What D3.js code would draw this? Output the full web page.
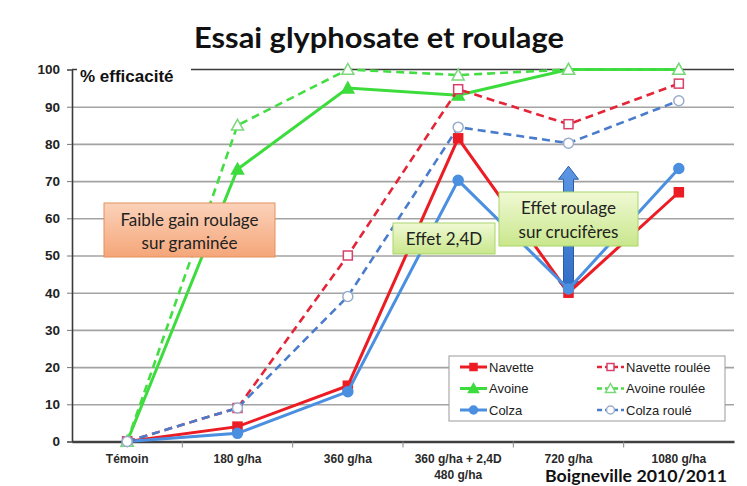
<!DOCTYPE html>
<html>
<head>
<meta charset="utf-8">
<script src="https://cdn.jsdelivr.net/npm/d3@7"></script>
<style>
  body { margin: 0; background: #fff; }
  svg { display: block; }
  .sans { font-family: "Liberation Sans", Arial, sans-serif; }
  .cal { font-family: Lato, "Open Sans", sans-serif; }
</style>
</head>
<body>
<div id="chart"></div>
<script>
// categories and values
var categories = ["Témoin", "180 g/ha", "360 g/ha", "360 g/ha + 2,4D|480 g/ha", "720 g/ha", "1080 g/ha"];
var yTicks = [0, 10, 20, 30, 40, 50, 60, 70, 80, 90, 100];

var navette        = [0, 4, 15, 81.5, 40, 67];
var navetteRoulee  = [0, 9, 50, 94.7, 85.3, 96.2];
var avoine         = [0, 73.2, 95, 93.1, 100, 100];
var avoineRoulee   = [0, 85, 100, 98.5, 100, 100];
var colza          = [0, 2.2, 13.4, 70.2, 41, 73.4];
var colzaRoule     = [0, 9, 39, 84.5, 80.2, 91.6];

var series = [
  { name: "Navette",        values: navette,       color: "#ec1c24", dash: null,  shape: "square",   open: false },
  { name: "Avoine",         values: avoine,        color: "#3ddc3d", dash: null,  shape: "triangle", open: false },
  { name: "Colza",          values: colza,         color: "#4a8fe0", dash: null,  shape: "circle",   open: false },
  { name: "Navette roulée", values: navetteRoulee, color: "#e42437", dash: "8,5", shape: "square",   open: true, stroke: "#d8406a" },
  { name: "Avoine roulée",  values: avoineRoulee,  color: "#44dd44", dash: "8,5", shape: "triangle", open: true, stroke: "#7ad87a" },
  { name: "Colza roulé",    values: colzaRoule,    color: "#4a7ccc", dash: "8,5", shape: "circle",   open: true, stroke: "#9aaccc" }
];
var legendOrder = ["Navette", "Navette roulée", "Avoine", "Avoine roulée", "Colza", "Colza roulé"];

var W = 747, H = 486;
var pLeft = 72, pRight = 734, pTop = 69.5, pBottom = 441.5;

var svg = d3.select("#chart").append("svg")
    .attr("width", W).attr("height", H);

var defs = svg.append("defs");
function grad(id, c1, c2) {
  var g = defs.append("linearGradient").attr("id", id)
      .attr("x1", 0).attr("y1", 0).attr("x2", 0).attr("y2", 1);
  g.append("stop").attr("offset", "0%").attr("stop-color", c1);
  g.append("stop").attr("offset", "100%").attr("stop-color", c2);
}
grad("orangeG", "#fbd2ba", "#f5a679");
grad("greenG", "#f0f9d4", "#c9e78c");
grad("blueG", "#5b97e4", "#2f6cc4");

var x = d3.scaleBand().domain(categories).range([pLeft, pRight]);
var y = d3.scaleLinear().domain([0, 100]).range([pBottom, pTop]);
function xc(c) { return x(c) + x.bandwidth() / 2; }

// title
svg.append("text").attr("class", "cal")
    .attr("x", 379).attr("y", 48)
    .attr("text-anchor", "middle")
    .attr("textLength", 370).attr("lengthAdjust", "spacingAndGlyphs")
    .style("font-size", "28px").style("font-weight", "bold").style("fill", "#111")
    .text("Essai glyphosate et roulage");

// gridlines
var grid = svg.append("g")
    .attr("transform", "translate(" + pLeft + ",0)")
    .call(d3.axisLeft(y).tickValues(yTicks.slice(1, -1)).tickSize(-(pRight - pLeft)).tickFormat(""));
grid.select(".domain").remove();
grid.selectAll("line").attr("stroke", "#a3a3a3").attr("stroke-width", 1.6);

// top border
svg.append("line")
    .attr("x1", pLeft).attr("x2", pRight).attr("y1", y(100)).attr("y2", y(100))
    .attr("stroke", "#3a3a3a").attr("stroke-width", 1.6);

// y axis
var yAxis = svg.append("g")
    .attr("transform", "translate(" + pLeft + ",0)")
    .call(d3.axisLeft(y).tickValues(yTicks).tickSize(5).tickPadding(7));
yAxis.select(".domain").attr("stroke", "#3a3a3a").attr("stroke-width", 1.6);
yAxis.selectAll("line").attr("stroke", "#777");
yAxis.selectAll("text")
    .attr("class", "sans")
    .style("font-size", "13.5px").style("font-weight", "bold").style("fill", "#222");

// "% efficacité" with white backing
svg.append("rect").attr("x", 77).attr("y", 62).attr("width", 114).attr("height", 22).attr("fill", "#fff");
svg.append("text").attr("class", "sans")
    .attr("x", 80).attr("y", 82)
    .style("font-size", "17px").style("font-weight", "bold").style("fill", "#111")
    .text("% efficacité");

// x axis
var xAxis = svg.append("g")
    .attr("transform", "translate(0," + pBottom + ")")
    .call(d3.axisBottom(x).tickSize(0).tickFormat(""));
xAxis.select(".domain").attr("stroke", "#404040").attr("stroke-width", 2.4);

svg.append("g").selectAll("line")
    .data(categories.slice(1))
    .enter().append("line")
    .attr("x1", function (d) { return x(d); })
    .attr("x2", function (d) { return x(d); })
    .attr("y1", pBottom).attr("y2", pBottom + 6)
    .attr("stroke", "#888").attr("stroke-width", 1);

var labels = svg.append("g").selectAll("text")
    .data(categories)
    .enter().append("text")
    .attr("class", "sans")
    .attr("text-anchor", "middle")
    .style("font-size", "12px").style("font-weight", "bold").style("fill", "#2a2a2a");
labels.each(function (d) {
  var t = d3.select(this);
  d.split("|").forEach(function (line, i) {
    t.append("tspan").attr("x", xc(d)).attr("y", 463 + i * 15.5).text(line);
  });
});

// blue double arrow (drawn under the boxes)
(function () {
  var cx = xc("720 g/ha"), yt = y(74), yb = y(39.5);
  var hh = 13, hw = 10, sw = 5;
  var p = d3.path();
  p.moveTo(cx, yt);
  p.lineTo(cx + hw, yt + hh); p.lineTo(cx + sw, yt + hh);
  p.lineTo(cx + sw, yb - hh); p.lineTo(cx + hw, yb - hh);
  p.lineTo(cx, yb);
  p.lineTo(cx - hw, yb - hh); p.lineTo(cx - sw, yb - hh);
  p.lineTo(cx - sw, yt + hh); p.lineTo(cx - hw, yt + hh);
  p.closePath();
  svg.append("path").attr("d", p.toString())
      .attr("fill", "url(#blueG)").attr("stroke", "#2a5aa8").attr("stroke-width", 1);
})();

// lines
var line = d3.line()
    .x(function (d, i) { return xc(categories[i]); })
    .y(function (d) { return y(d); });

function drawMarker(g, s, cx, cy, size) {
  var fill = s.open ? "#fff" : s.color;
  var stroke = s.open ? s.stroke : s.color;
  if (s.shape === "square") {
    g.append("rect").attr("x", cx - size).attr("y", cy - size)
        .attr("width", size * 2).attr("height", size * 2)
        .attr("fill", fill).attr("stroke", stroke).attr("stroke-width", 1.5);
  } else if (s.shape === "circle") {
    g.append("circle").attr("cx", cx).attr("cy", cy).attr("r", size + 0.5)
        .attr("fill", fill).attr("stroke", stroke).attr("stroke-width", 1.5);
  } else {
    var r = size + 1.5;
    g.append("path")
        .attr("d", "M" + cx + "," + (cy - r) + "L" + (cx + r) + "," + (cy + r * 0.8) + "L" + (cx - r) + "," + (cy + r * 0.8) + "Z")
        .attr("fill", fill).attr("stroke", stroke).attr("stroke-width", 1.5);
  }
}

var plot = svg.append("g");
series.forEach(function (s) {
  var g = plot.append("g");
  g.append("path").datum(s.values)
      .attr("d", line)
      .attr("fill", "none")
      .attr("stroke", s.color)
      .attr("stroke-width", s.dash ? 2.6 : 3)
      .attr("stroke-dasharray", s.dash);
  s.values.forEach(function (v, i) {
    drawMarker(g, s, xc(categories[i]), y(v), 4.5);
  });
});

// annotation boxes
function box(x0, y0, w, h, fillId, stroke, lines, lineY) {
  svg.append("rect").attr("x", x0).attr("y", y0).attr("width", w).attr("height", h)
      .attr("fill", "url(#" + fillId + ")").attr("stroke", stroke).attr("stroke-width", 1);
  lines.forEach(function (t, i) {
    svg.append("text").attr("class", "cal")
        .attr("x", x0 + w / 2).attr("y", lineY[i])
        .attr("text-anchor", "middle")
        .style("font-size", "17px").style("fill", "#222")
        .text(t);
  });
}
box(104, 203, 171, 54, "orangeG", "#e3925f", ["Faible gain roulage", "sur graminée"], [226, 249]);
box(393, 223, 102, 31, "greenG", "#a9d66d", ["Effet 2,4D"], [244.5]);
box(499, 192, 139, 54, "greenG", "#a9d66d", ["Effet roulage", "sur crucifères"], [214, 237.5]);

// legend
var lg = svg.append("g").attr("transform", "translate(449,356)");
lg.append("rect").attr("width", 276).attr("height", 65)
    .attr("fill", "#fff").attr("stroke", "#9a9a9a").attr("stroke-width", 1);
legendOrder.forEach(function (name, i) {
  var s = series.filter(function (d) { return d.name === name; })[0];
  var col = i % 2, row = Math.floor(i / 2);
  var lx = col === 0 ? 11 : 148;
  var ly = 11 + row * 21.5;
  var g = lg.append("g");
  g.append("line").attr("x1", lx).attr("x2", lx + 27).attr("y1", ly).attr("y2", ly)
      .attr("stroke", s.color).attr("stroke-width", s.dash ? 2.4 : 3)
      .attr("stroke-dasharray", s.dash ? "5,3" : null);
  drawMarker(g, s, lx + 13.5, ly, 3.5);
  g.append("text").attr("class", "sans")
      .attr("x", lx + 29).attr("y", ly + 4.5)
      .style("font-size", "13px").style("fill", "#222")
      .text(name);
});

// source
svg.append("text").attr("class", "cal")
    .attr("x", 545).attr("y", 482)
    .attr("textLength", 182).attr("lengthAdjust", "spacingAndGlyphs")
    .style("font-size", "17px").style("font-weight", "bold").style("fill", "#111")
    .text("Boigneville 2010/2011");
</script>
</body>
</html>
